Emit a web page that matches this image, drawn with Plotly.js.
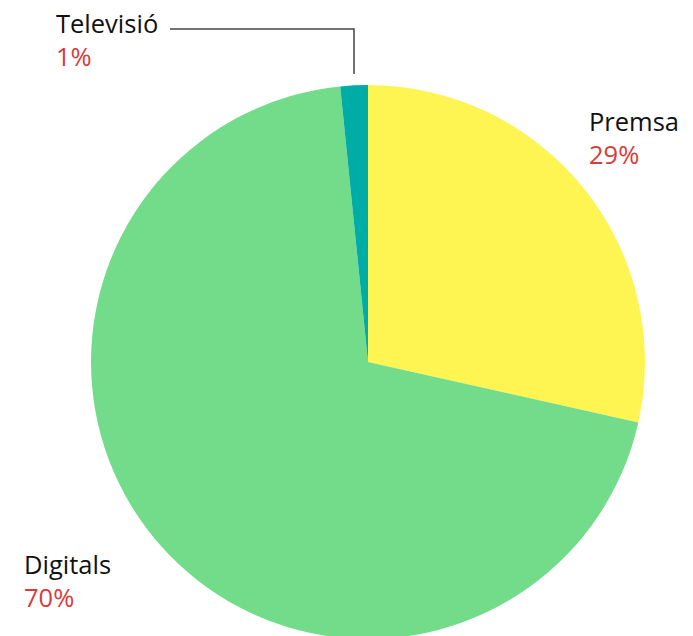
<!DOCTYPE html>
<html>
<head>
<meta charset="utf-8">
<script src="https://cdn.plot.ly/plotly-3.0.1.min.js"></script>
<style>
html,body{margin:0;padding:0;overflow:hidden;background:#fff;}
#chart{width:693px;height:642px;}
</style>
</head>
<body>
<div id="chart"></div>
<script>
// Data
var categories = ["Premsa", "Digitals", "Televisió"];
var values = [28.5, 69.9, 1.6];
var percentLabels = ["29%", "70%", "1%"];
var colors = ["#FFF552", "#72DC8B", "#00ADA6"];

// Layout helpers (pixel -> paper)
var W = 693, H = 642;
function px(x){ return x / W; }
function py(y){ return (H - y) / H; }

// Label placement (style, not data)
var labelPos = {
  "Premsa":    {x: 587, y: 102},
  "Digitals":  {x: 22,  y: 545},
  "Televisió": {x: 54,  y: 4}
};

var trace = {
  type: "pie",
  labels: categories,
  values: values,
  sort: false,
  direction: "clockwise",
  rotation: 0,
  textinfo: "none",
  hoverinfo: "label+percent",
  marker: {colors: colors, line: {width: 0}},
  domain: {x: [px(91), px(645)], y: [py(639), py(85)]},
  showlegend: false
};

var annotations = categories.map(function(c, i){
  var p = labelPos[c];
  return {
    xref: "paper", yref: "paper",
    x: px(p.x), y: py(p.y),
    xanchor: "left", yanchor: "top",
    align: "left",
    showarrow: false,
    text: c + "<br><span style='color:#D93B3B'>" + percentLabels[i] + "</span>",
    font: {family: "Open Sans", size: 25.5, color: "#111111"}
  };
});

var layout = {
  width: W, height: H,
  margin: {l: 0, r: 0, t: 0, b: 0},
  paper_bgcolor: "#ffffff",
  plot_bgcolor: "#ffffff",
  showlegend: false,
  annotations: annotations,
  shapes: [{
    type: "path", xref: "paper", yref: "paper",
    path: "M " + px(170) + "," + py(29) + " L " + px(354) + "," + py(29) + " L " + px(354) + "," + py(74),
    line: {color: "#444444", width: 1.5}
  }]
};

Plotly.newPlot("chart", [trace], layout, {displayModeBar: false, staticPlot: true});
</script>
</body>
</html>
